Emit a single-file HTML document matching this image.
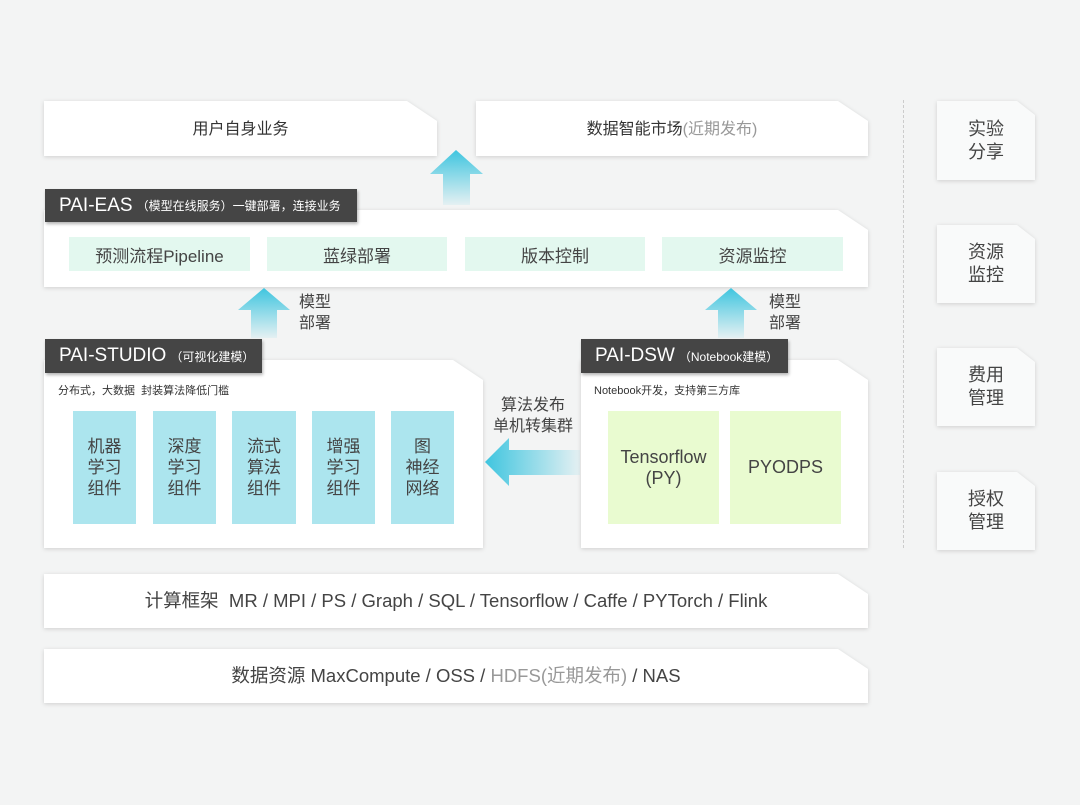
<!DOCTYPE html>
<html><head><meta charset="utf-8"><style>
body{margin:0;width:1080px;height:805px;background:#f3f4f4;position:relative;overflow:hidden;font-family:"Liberation Sans","Noto Sans CJK SC",sans-serif;color:#333}
.a{position:absolute}
.box{position:absolute;background:#fff;clip-path:polygon(0 0,calc(100% - 30px) 0,100% 20px,100% 100%,0 100%);}
.sh{position:absolute;filter:drop-shadow(0 1px 2px rgba(0,0,0,.15))}
.c{display:flex;align-items:center;justify-content:center;text-align:center}
.lbl{position:absolute;background:#454545;color:#fff;box-shadow:1px 2px 3px rgba(0,0,0,.3);display:flex;align-items:center;font-size:19px;padding-left:14px;box-sizing:border-box}
.lbl small{font-size:12px;margin-left:4px}
.item{position:absolute;background:#e3f8ef;font-size:17px;color:#444}
.comp{position:absolute;background:#ace5ee;font-size:17px;line-height:21px;color:#444}
.nb{position:absolute;background:#e9fbd0;font-size:18px;line-height:21px;color:#444}
.side{position:absolute;background:#f9fafa;font-size:18px;line-height:23px;color:#444;clip-path:polygon(0 0,calc(100% - 18px) 0,100% 14px,100% 100%,0 100%)}
.txt{position:absolute;font-size:16px;line-height:21px;color:#444}
</style></head><body>
<div class="sh" style="left:0;top:0;width:1080px;height:805px">
<div class="box c" style="left:44px;top:101px;width:393px;height:52px;padding-bottom:3px;font-size:16px">用户自身业务</div>
<div class="box c" style="left:476px;top:101px;width:392px;height:52px;padding-bottom:3px;font-size:16px"><span>数据智能市场<span style="color:#999">(近期发布)</span></span></div>
<div class="box" style="left:44px;top:210px;width:824px;height:77px"></div>
<div class="box" style="left:44px;top:360px;width:439px;height:188px"></div>
<div class="box" style="left:581px;top:360px;width:287px;height:188px"></div>
<div class="box c" style="left:44px;top:574px;width:824px;height:51px;padding-bottom:3px;font-size:18.5px;color:#444"><span>计算框架&nbsp;&nbsp;MR / MPI / PS / Graph / SQL / Tensorflow / Caffe / PYTorch / Flink</span></div>
<div class="box c" style="left:44px;top:649px;width:824px;height:51px;padding-bottom:3px;font-size:18.5px;color:#444"><span>数据资源&nbsp;MaxCompute / OSS / <span style="color:#999">HDFS(近期发布)</span> / NAS</span></div>
<div class="side c" style="left:937px;top:101px;width:98px;height:79px">实验<br>分享</div>
<div class="side c" style="left:937px;top:225px;width:98px;height:78px">资源<br>监控</div>
<div class="side c" style="left:937px;top:348px;width:98px;height:78px">费用<br>管理</div>
<div class="side c" style="left:937px;top:472px;width:98px;height:78px">授权<br>管理</div>
</div>
<div class="a" style="left:903px;top:100px;height:448px;border-left:1px dashed #ccc"></div>

<svg class="a" style="left:0;top:0" width="1080" height="805">
<defs>
<linearGradient id="gu" x1="0" y1="0" x2="0" y2="1"><stop offset="0" stop-color="#3fc5df"/><stop offset="1" stop-color="#3fc5df" stop-opacity="0.08"/></linearGradient>
<linearGradient id="gl" x1="0" y1="0" x2="1" y2="0"><stop offset="0" stop-color="#3fc5df"/><stop offset="1" stop-color="#3fc5df" stop-opacity="0.08"/></linearGradient>
</defs>
<polygon points="456,150 483,174 470,174 470,205 443,205 443,174 430,174" fill="url(#gu)"/>
<polygon points="264,288 290,310 277,310 277,338 251,338 251,310 238,310" fill="url(#gu)"/>
<polygon points="731,288 757,310 744,310 744,338 718,338 718,310 705,310" fill="url(#gu)"/>
<polygon points="485,462 509,438 509,450 580,450 580,475 509,475 509,486" fill="url(#gl)"/>
</svg>

<div class="lbl" style="left:45px;top:189px;width:312px;height:33px">PAI-EAS<small>（模型在线服务）一键部署，连接业务</small></div>
<div class="item c" style="left:69px;top:237px;width:181px;height:34px">预测流程Pipeline</div>
<div class="item c" style="left:267px;top:237px;width:180px;height:34px">蓝绿部署</div>
<div class="item c" style="left:465px;top:237px;width:180px;height:34px">版本控制</div>
<div class="item c" style="left:662px;top:237px;width:181px;height:34px">资源监控</div>

<div class="txt" style="left:299px;top:292px">模型<br>部署</div>
<div class="txt" style="left:769px;top:292px">模型<br>部署</div>

<div class="lbl" style="left:45px;top:339px;width:217px;height:34px">PAI-STUDIO<small>（可视化建模）</small></div>
<div class="a" style="left:58px;top:382px;font-size:11px">分布式，大数据&nbsp;&nbsp;封装算法降低门槛</div>
<div class="comp c" style="left:73px;top:411px;width:63px;height:113px">机器<br>学习<br>组件</div>
<div class="comp c" style="left:153px;top:411px;width:63px;height:113px">深度<br>学习<br>组件</div>
<div class="comp c" style="left:232px;top:411px;width:64px;height:113px">流式<br>算法<br>组件</div>
<div class="comp c" style="left:312px;top:411px;width:63px;height:113px">增强<br>学习<br>组件</div>
<div class="comp c" style="left:391px;top:411px;width:63px;height:113px">图<br>神经<br>网络</div>

<div class="txt c" style="left:478px;top:395px;width:110px">算法发布<br>单机转集群</div>

<div class="lbl" style="left:581px;top:339px;width:207px;height:34px">PAI-DSW<small>（Notebook建模）</small></div>
<div class="a" style="left:594px;top:382px;font-size:11px">Notebook开发，支持第三方库</div>
<div class="nb c" style="left:608px;top:411px;width:111px;height:113px">Tensorflow<br>(PY)</div>
<div class="nb c" style="left:730px;top:411px;width:111px;height:113px">PYODPS</div>
</body></html>
